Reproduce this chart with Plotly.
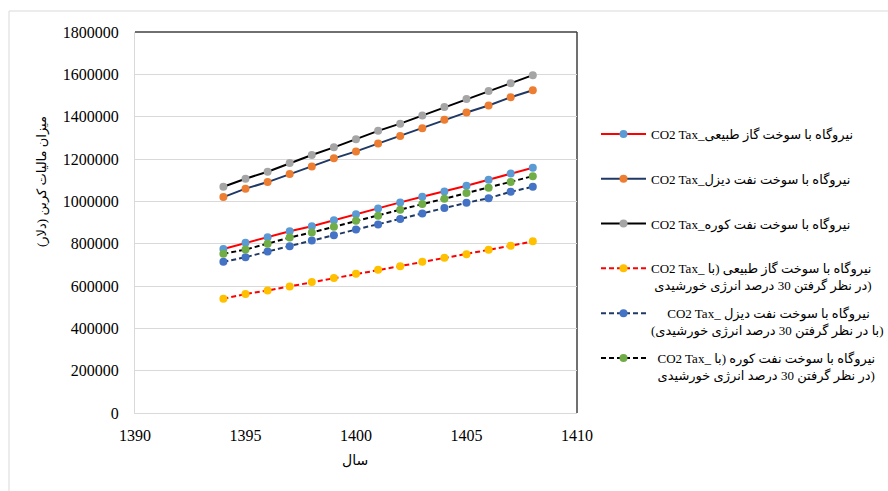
import plotly.graph_objects as go

years = list(range(1394, 1409))

gas = [775000, 804000, 830000, 859000, 882000, 911000, 939000, 966000, 995000, 1022000, 1047000, 1074000, 1102000, 1131000, 1159000]
diesel = [1020000, 1060000, 1091000, 1129000, 1165000, 1203000, 1236000, 1273000, 1309000, 1345000, 1385000, 1420000, 1453000, 1492000, 1525000]
mazut = [1069000, 1107000, 1140000, 1181000, 1219000, 1255000, 1293000, 1333000, 1367000, 1405000, 1446000, 1483000, 1521000, 1558000, 1596000]
gas_solar = [540000, 562000, 579000, 598000, 619000, 638000, 658000, 677000, 693000, 715000, 733000, 750000, 771000, 790000, 811000]
diesel_solar = [714000, 736000, 763000, 788000, 815000, 840000, 867000, 891000, 917000, 943000, 969000, 993000, 1015000, 1045000, 1069000]
mazut_solar = [752000, 772000, 800000, 829000, 853000, 880000, 908000, 932000, 960000, 987000, 1012000, 1039000, 1064000, 1091000, 1119000]

names = [
    "CO2 Tax_نیروگاه با سوخت گاز طبیعی<br>\u00a0",
    "CO2 Tax_نیروگاه با سوخت نفت دیزل<br>\u00a0",
    "CO2 Tax_نیروگاه با سوخت نفت کوره<br>\u00a0",
    "CO2 Tax_ نیروگاه با سوخت گاز طبیعی (با<br>\u00a0در نظر گرفتن 30 درصد انرژی خورشیدی)",
    "\u00a0\u00a0\u00a0\u00a0\u00a0CO2 Tax_ نیروگاه با سوخت نفت دیزل<br>(با در نظر گرفتن 30 درصد انرژی خورشیدی)",
    "\u00a0\u00a0CO2 Tax_ نیروگاه با سوخت نفت کوره (با<br>\u00a0\u00a0در نظر گرفتن 30 درصد انرژی خورشیدی)",
]
series = [gas, diesel, mazut, gas_solar, diesel_solar, mazut_solar]
line_colors = ["#FF0000", "#1F3864", "#000000", "#FF0000", "#1F3864", "#000000"]
marker_colors = ["#5B9BD5", "#ED7D31", "#A5A5A5", "#FFC000", "#4472C4", "#70AD47"]
dashes = ["solid", "solid", "solid", "5px,3px", "5px,3px", "5px,3px"]

FONT = "Liberation Serif, DejaVu Sans, serif"

fig = go.Figure()
for i, (nm, vals) in enumerate(zip(names, series)):
    fig.add_trace(go.Scatter(
        x=years, y=vals, name=nm, mode="lines+markers",
        legendgroup=str(i),
        line=dict(color=line_colors[i], width=2, dash=dashes[i]),
        marker=dict(color=marker_colors[i], size=8, line=dict(width=0)),
    ))

L, R, T, B = 135, 577, 32, 413
W, H = 888, 491
def px(xp):
    return (xp - L) / (R - L)
def py(yp):
    return (B - yp) / (B - T)

fig.update_layout(
    width=W, height=H,
    margin=dict(l=L, r=W - R, t=T, b=H - B, pad=0, autoexpand=False),
    paper_bgcolor="white",
    plot_bgcolor="rgba(0,0,0,0)",
    font=dict(family=FONT, size=15, color="#000000"),
    showlegend=True,
    legend=dict(
        x=px(596), xanchor="left", y=py(119), yanchor="top",
        font=dict(family=FONT, size=13, color="#000000"),
        tracegroupgap=8, valign="top", bgcolor="rgba(0,0,0,0)",
        itemwidth=45,
    ),
    xaxis=dict(
        range=[1390, 1410], dtick=5, tick0=1390, showgrid=False, zeroline=False,
        showline=True, linecolor="#D9D9D9", linewidth=1, ticks="",
        tickfont=dict(family=FONT, size=16, color="#000000"),
        ticklabelstandoff=8,
    ),
    yaxis=dict(
        range=[0, 1800000], dtick=200000, tick0=0, tickformat="d",
        showgrid=True, gridcolor="#D9D9D9", gridwidth=1, zeroline=False,
        showline=True, linecolor="#D9D9D9", linewidth=1, ticks="",
        tickfont=dict(family=FONT, size=16, color="#000000"),
        ticklabelstandoff=12,
    ),
    shapes=[
        dict(type="line", xref="paper", yref="paper", x0=0, x1=1, y0=1, y1=1,
             line=dict(color="#404040", width=1.5), layer="below"),
        dict(type="line", xref="paper", yref="paper", x0=1, x1=1, y0=0, y1=1,
             line=dict(color="#404040", width=1.5), layer="below"),
        dict(type="line", xref="paper", yref="paper", x0=px(9), x1=px(888), y0=py(11), y1=py(11),
             line=dict(color="#D9D9D9", width=1), layer="below"),
        dict(type="line", xref="paper", yref="paper", x0=px(9), x1=px(9), y0=py(11), y1=py(495),
             line=dict(color="#D9D9D9", width=1), layer="below"),
    ],
    annotations=[
        dict(text="میزان مالیات کربن (دلار)", xref="paper", yref="paper",
             x=px(42), y=py(182), xanchor="center", yanchor="middle",
             textangle=-90, showarrow=False,
             font=dict(family=FONT, size=13, color="#000000")),
        dict(text="سال", xref="paper", yref="paper",
             x=px(355), y=py(460), xanchor="center", yanchor="middle",
             showarrow=False, font=dict(family=FONT, size=14, color="#000000")),
    ],
)

fig.write_html("out.html")
